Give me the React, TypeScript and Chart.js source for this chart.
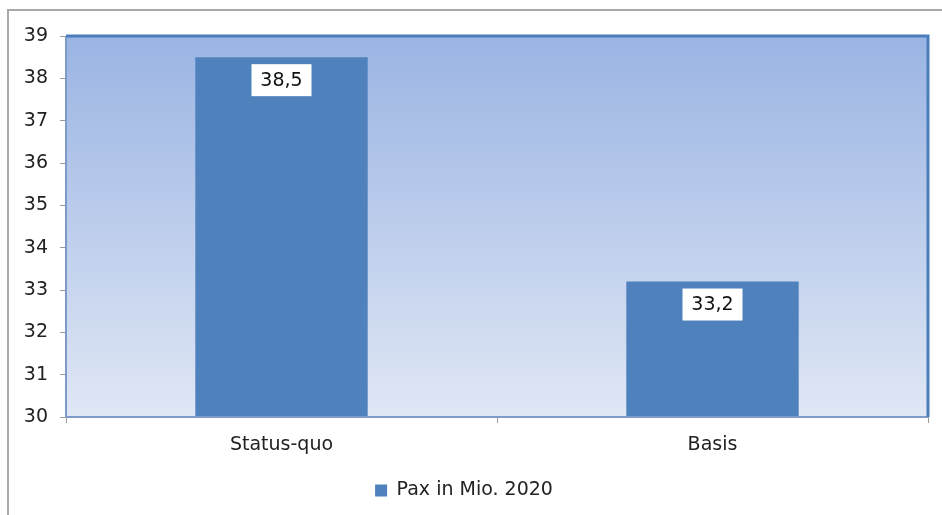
import React, { useEffect, useRef } from "react";
import { Chart, registerables } from "chart.js";

Chart.register(...registerables);

const categories = ["Status-quo", "Basis"];
const seriesName = "Pax in Mio. 2020";
const seriesValues = [38.5, 33.2];
const valueLabels = ["38,5", "33,2"];
const yMin = 30;
const yMax = 39;

const FONT = "DejaVu Sans";

const framePlugin = {
  id: "frameAndBg",
  beforeDraw(chart: any) {
    const { ctx, chartArea } = chart;
    const { left, top, right, bottom } = chartArea;
    ctx.save();
    ctx.fillStyle = "#ffffff";
    ctx.fillRect(0, 0, chart.width, chart.height);
    const g = ctx.createLinearGradient(0, top, 0, bottom);
    g.addColorStop(0, "#9AB4E3");
    g.addColorStop(1, "#E0E7F5");
    ctx.fillStyle = g;
    ctx.fillRect(left, top, right - left, bottom - top);
    ctx.strokeStyle = "#A8A8A8";
    ctx.lineWidth = 2;
    ctx.beginPath();
    ctx.moveTo(8, chart.height);
    ctx.lineTo(8, 10);
    ctx.lineTo(chart.width, 10);
    ctx.stroke();
    ctx.restore();
  },
  afterDatasetsDraw(chart: any) {
    const { ctx, chartArea } = chart;
    const { left, top, right, bottom } = chartArea;
    ctx.save();
    ctx.strokeStyle = "#7E9BC8";
    ctx.lineWidth = 2;
    ctx.beginPath();
    ctx.moveTo(left, top);
    ctx.lineTo(left, bottom);
    ctx.lineTo(right, bottom);
    ctx.stroke();
    ctx.strokeStyle = "#4A7EBB";
    ctx.lineWidth = 3;
    ctx.beginPath();
    ctx.moveTo(left, top);
    ctx.lineTo(right, top);
    ctx.lineTo(right, bottom);
    ctx.stroke();
    const meta = chart.getDatasetMeta(0);
    meta.data.forEach((bar: any, i: number) => {
      const w = 60;
      const h = 32;
      const x = bar.x - w / 2;
      const y = bar.y + 7;
      ctx.fillStyle = "#ffffff";
      ctx.fillRect(x, y, w, h);
      ctx.fillStyle = "#111111";
      ctx.font = `19px "${FONT}"`;
      ctx.textAlign = "center";
      ctx.textBaseline = "middle";
      ctx.fillText(valueLabels[i], bar.x, y + h / 2 + 1);
    });
    ctx.restore();
  },
};

export default function App() {
  const ref = useRef<HTMLCanvasElement | null>(null);
  useEffect(() => {
    if (!ref.current) return;
    const chart = new Chart(ref.current, {
      type: "bar",
      data: {
        labels: categories,
        datasets: [
          {
            label: seriesName,
            data: seriesValues,
            backgroundColor: "#4F81BD",
            borderWidth: 0,
            categoryPercentage: 0.4,
            barPercentage: 1,
          },
        ],
      },
      options: {
        responsive: false,
        animation: false,
        layout: { padding: { top: 36, right: 14, left: 0, bottom: 5 } },
        plugins: {
          tooltip: { enabled: false },
          legend: {
            position: "bottom",
            labels: {
              boxWidth: 12,
              boxHeight: 12,
              padding: 12,
              color: "#222222",
              font: { family: FONT, size: 19 },
            },
          },
        },
        scales: {
          x: {
            afterFit(scale: any) {
              scale.height = 52;
            },
            grid: {
              display: true,
              drawOnChartArea: false,
              tickLength: 6,
              color: "#9A9A9A",
              offset: true,
            },
            border: { display: false },
            ticks: {
              color: "#222222",
              padding: 11,
              font: { family: FONT, size: 19 },
            },
          },
          y: {
            min: yMin,
            max: yMax,
            afterFit(scale: any) {
              scale.width = 66;
            },
            grid: {
              display: true,
              drawOnChartArea: false,
              tickLength: 6,
              color: "#9A9A9A",
            },
            border: { display: false },
            ticks: {
              stepSize: 1,
              color: "#222222",
              padding: 12,
              font: { family: FONT, size: 19 },
            },
          },
        },
      },
      plugins: [framePlugin],
    } as any);
    return () => chart.destroy();
  }, []);
  return (
    <div style={{ position: "absolute", left: 0, top: 0, width: 942, height: 515 }}>
      <canvas ref={ref} width={942} height={515} style={{ display: "block" }} />
    </div>
  );
}
